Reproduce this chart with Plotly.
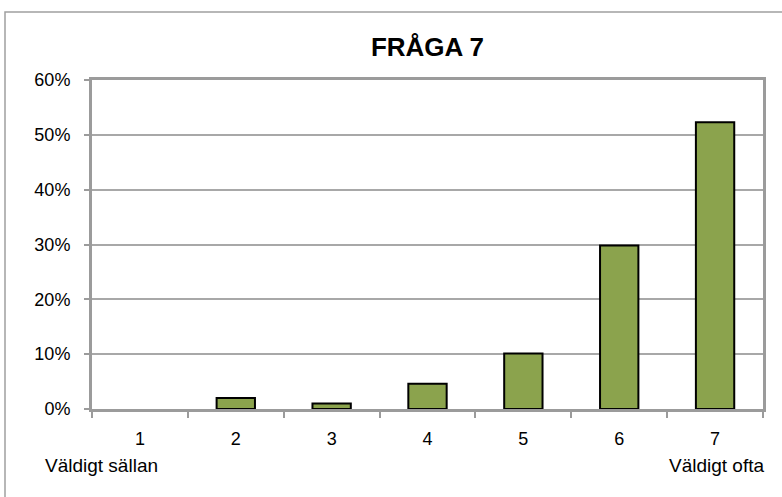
import plotly.graph_objects as go

categories = ["1", "2", "3", "4", "5", "6", "7"]
values = [0.0, 0.020, 0.010, 0.046, 0.101, 0.298, 0.523]
y_ticks = [0, 0.1, 0.2, 0.3, 0.4, 0.5, 0.6]
y_tick_labels = ["0%", "10%", "20%", "30%", "40%", "50%", "60%"]
title_text = "FRÅGA 7"
low_label = "Väldigt sällan"
high_label = "Väldigt ofta"

FONT = "Liberation Sans, Arial, sans-serif"
AXIS_GRAY = "#9b9b9b"

fig = go.Figure(
    go.Bar(
        x=categories,
        y=values,
        marker=dict(
            color="#8ba34d",
            line=dict(color="#000000", width=[0 if v == 0 else 2 for v in values]),
        ),
        width=0.4,
    )
)

fig.update_layout(
    width=782,
    height=497,
    margin=dict(l=92, r=19, t=80, b=87.5),
    paper_bgcolor="white",
    plot_bgcolor="white",
    showlegend=False,
    title=dict(
        text=f"<b>{title_text}</b>",
        x=(92 + 763) / 2 / 782,
        xanchor="center",
        y=1 - 47 / 497,
        yanchor="middle",
        font=dict(family=FONT, size=26, color="#000000"),
    ),
    font=dict(family=FONT, size=18, color="#000000"),
)

fig.update_xaxes(
    type="category",
    range=[-0.5, 6.5],
    showline=True,
    linecolor=AXIS_GRAY,
    linewidth=3,
    mirror=True,
    ticks="outside",
    tickson="boundaries",
    ticklen=6,
    tickwidth=1.5,
    tickcolor=AXIS_GRAY,
    ticklabelstandoff=11,
    showgrid=False,
    tickfont=dict(family=FONT, size=18, color="#000000"),
)

fig.update_yaxes(
    range=[0, 0.6],
    tickvals=y_ticks,
    ticktext=y_tick_labels,
    showline=True,
    linecolor=AXIS_GRAY,
    linewidth=3,
    mirror=True,
    ticks="outside",
    ticklen=5,
    tickwidth=1.5,
    tickcolor=AXIS_GRAY,
    ticklabelstandoff=10,
    showgrid=True,
    gridcolor="#a8a8a8",
    gridwidth=1.5,
    zeroline=False,
    tickfont=dict(family=FONT, size=18, color="#000000"),
)

fig.add_annotation(
    text=low_label, xref="paper", yref="paper",
    x=(43 - 92) / 671, y=(409.5 - 466) / 329.5,
    xanchor="left", yanchor="middle", showarrow=False,
    font=dict(family=FONT, size=19, color="#000000"),
)
fig.add_annotation(
    text=high_label, xref="paper", yref="paper",
    x=(766 - 92) / 671, y=(409.5 - 466) / 329.5,
    xanchor="right", yanchor="middle", showarrow=False,
    font=dict(family=FONT, size=19, color="#000000"),
)

# outer chart border (right/bottom edges fall outside the page)
fig.add_shape(
    type="rect", xref="paper", yref="paper",
    x0=(5 - 92) / 671, x1=(800 - 92) / 671,
    y0=(409.5 - 520) / 329.5, y1=(409.5 - 12) / 329.5,
    line=dict(color="#a0a0a0", width=1.5), fillcolor="rgba(0,0,0,0)",
    layer="below",
)

fig.write_html(
    "out.html",
    config={"displayModeBar": False},
    post_script="document.body.style.margin='0px';document.body.style.overflow='hidden';",
)
